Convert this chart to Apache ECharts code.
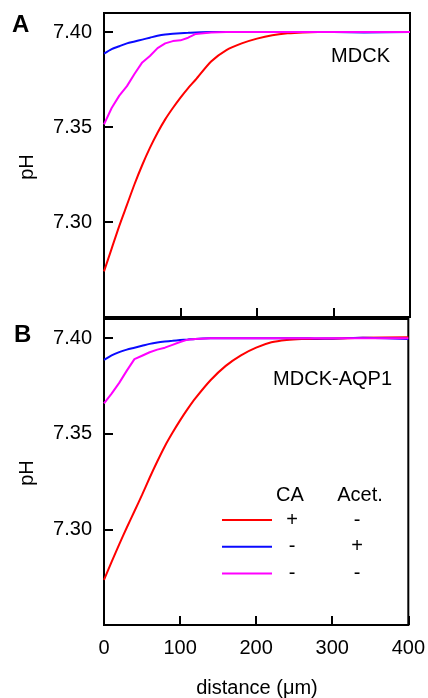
<!DOCTYPE html>
<html>
<head>
<meta charset="utf-8">
<script src="https://cdn.jsdelivr.net/npm/echarts@6/dist/echarts.min.js"></script>
<style>
  html, body { margin: 0; padding: 0; background: #fff; }
  #chart { width: 428px; height: 698px; }
</style>
</head>
<body>
<div id="chart"></div>
<script>
// distance (um) sampled along the profiles
const distance = [0, 10, 20, 30, 40, 50, 60, 70, 80, 90, 100, 110, 120, 140, 160, 180, 200, 220, 240, 260, 280, 300, 340, 400];

// panel A - MDCK
const redA     = [7.274, 7.286, 7.298, 7.309, 7.320, 7.330, 7.339, 7.347, 7.354, 7.360, 7.3655, 7.3705, 7.375, 7.3845, 7.3905, 7.394, 7.3965, 7.3983, 7.3993, 7.3998, 7.400, 7.400, 7.400, 7.400];
const blueA    = [7.3886, 7.391, 7.3925, 7.394, 7.395, 7.396, 7.397, 7.398, 7.3987, 7.3991, 7.3994, 7.3996, 7.3998, 7.400, 7.400, 7.400, 7.400, 7.400, 7.400, 7.400, 7.400, 7.400, 7.3998, 7.400];
const magentaA = [7.3514, 7.360, 7.3665, 7.3715, 7.378, 7.384, 7.3874, 7.3915, 7.394, 7.3952, 7.3956, 7.397, 7.399, 7.3997, 7.400, 7.400, 7.400, 7.400, 7.400, 7.400, 7.400, 7.400, 7.400, 7.400];

// panel B - MDCK-AQP1
const redB     = [7.2736, 7.283, 7.2922, 7.301, 7.3095, 7.318, 7.327, 7.3355, 7.3435, 7.3505, 7.357, 7.363, 7.3685, 7.378, 7.3855, 7.391, 7.395, 7.3978, 7.399, 7.3995, 7.3996, 7.3997, 7.4002, 7.4005];
const blueB    = [7.3886, 7.391, 7.3927, 7.394, 7.395, 7.396, 7.397, 7.3977, 7.3982, 7.3986, 7.399, 7.3993, 7.3996, 7.3999, 7.400, 7.400, 7.400, 7.400, 7.400, 7.400, 7.3998, 7.3998, 7.4002, 7.3995];
const magentaB = [7.3659, 7.371, 7.3766, 7.383, 7.389, 7.3908, 7.3926, 7.394, 7.395, 7.3965, 7.398, 7.3992, 7.3996, 7.3999, 7.400, 7.400, 7.400, 7.400, 7.400, 7.400, 7.400, 7.400, 7.400, 7.400];

const yShown = ['7.30', '7.35', '7.40'];

const legendRows = [
    { color: '#ff0000', ca: '+', acet: '-' },
    { color: '#0a0aff', ca: '-', acet: '+' },
    { color: '#ff00ff', ca: '-', acet: '-' }
];

const FONT = "'Liberation Sans', Arial, sans-serif";
const pair = ys => distance.map((d, i) => [d, ys[i]]);

const chart = echarts.init(document.getElementById('chart'));

const makeX = (gridIndex, showLabels) => ({
    type: 'value',
    gridIndex: gridIndex,
    min: 0,
    max: 400,
    interval: 100,
    axisLine: { show: false },
    axisTick: { show: true, inside: true, length: 9, lineStyle: { color: '#000', width: 2 } },
    axisLabel: { show: showLabels, fontFamily: FONT, fontSize: 20, color: '#000', margin: 13 },
    splitLine: { show: false }
});

const makeY = gridIndex => ({
    type: 'value',
    gridIndex: gridIndex,
    min: 7.25,
    max: 7.41,
    interval: 0.05,
    axisLine: { show: false },
    axisTick: { show: true, inside: true, length: 9, lineStyle: { color: '#000', width: 2 } },
    axisLabel: {
        showMinLabel: false,
        showMaxLabel: false,
        formatter: v => {
            const s = v.toFixed(2);
            return yShown.includes(s) ? s : '';
        },
        fontFamily: FONT, fontSize: 20, color: '#000', margin: 12
    },
    splitLine: { show: false }
});

const line = (name, color, data, axis, smooth) => ({
    name: name,
    type: 'line',
    xAxisIndex: axis,
    yAxisIndex: axis,
    data: pair(data),
    showSymbol: false,
    smooth: smooth ? 0.25 : false,
    lineStyle: { color: color, width: 2 },
    itemStyle: { color: color },
    animation: false
});

const graphics = [
    { type: 'text', x: 12, y: 25, style: { text: 'A', fontFamily: FONT, fontSize: 24, fontWeight: 'bold', fill: '#000', verticalAlign: 'middle' } },
    { type: 'text', x: 14, y: 335, style: { text: 'B', fontFamily: FONT, fontSize: 24, fontWeight: 'bold', fill: '#000', verticalAlign: 'middle' } },
    { type: 'text', x: 27, y: 167, rotation: Math.PI / 2, style: { text: 'pH', fontFamily: FONT, fontSize: 20, fill: '#000', align: 'center', verticalAlign: 'middle' } },
    { type: 'text', x: 27, y: 473, rotation: Math.PI / 2, style: { text: 'pH', fontFamily: FONT, fontSize: 20, fill: '#000', align: 'center', verticalAlign: 'middle' } },
    { type: 'text', x: 390, y: 56, style: { text: 'MDCK', fontFamily: FONT, fontSize: 20, fill: '#000', align: 'right', verticalAlign: 'middle' } },
    { type: 'text', x: 392, y: 379, style: { text: 'MDCK-AQP1', fontFamily: FONT, fontSize: 20, fill: '#000', align: 'right', verticalAlign: 'middle' } },
    { type: 'text', x: 257, y: 688, style: { text: 'distance (μm)', fontFamily: FONT, fontSize: 20, fill: '#000', align: 'center', verticalAlign: 'middle' } },
    { type: 'text', x: 290, y: 495, style: { text: 'CA', fontFamily: FONT, fontSize: 20, fill: '#000', align: 'center', verticalAlign: 'middle' } },
    { type: 'text', x: 360, y: 495, style: { text: 'Acet.', fontFamily: FONT, fontSize: 20, fill: '#000', align: 'center', verticalAlign: 'middle' } }
];

legendRows.forEach((r, i) => {
    const y = 520 + i * 26.7;
    graphics.push({ type: 'line', shape: { x1: 222, y1: y, x2: 272, y2: y }, style: { stroke: r.color, lineWidth: 2 } });
    graphics.push({ type: 'text', x: 292, y: y, style: { text: r.ca, fontFamily: FONT, fontSize: 20, fill: '#000', align: 'center', verticalAlign: 'middle' } });
    graphics.push({ type: 'text', x: 357, y: y, style: { text: r.acet, fontFamily: FONT, fontSize: 20, fill: '#000', align: 'center', verticalAlign: 'middle' } });
});

const option = {
    backgroundColor: '#fff',
    animation: false,
    grid: [
        { left: 104, top: 13, width: 306, height: 304, show: true, borderColor: '#000', borderWidth: 2, backgroundColor: 'transparent' },
        { left: 104, top: 319, width: 306, height: 306, show: true, borderColor: '#000', borderWidth: 2, backgroundColor: 'transparent' }
    ],
    xAxis: [makeX(0, false), makeX(1, true)],
    yAxis: [makeY(0), makeY(1)],
    series: [
        line('red A', '#ff0000', redA, 0, true),
        line('blue A', '#0a0aff', blueA, 0, true),
        line('magenta A', '#ff00ff', magentaA, 0, false),
        line('red B', '#ff0000', redB, 1, true),
        line('blue B', '#0a0aff', blueB, 1, true),
        line('magenta B', '#ff00ff', magentaB, 1, false)
    ],
    graphic: graphics
};

chart.setOption(option);
</script>
</body>
</html>
